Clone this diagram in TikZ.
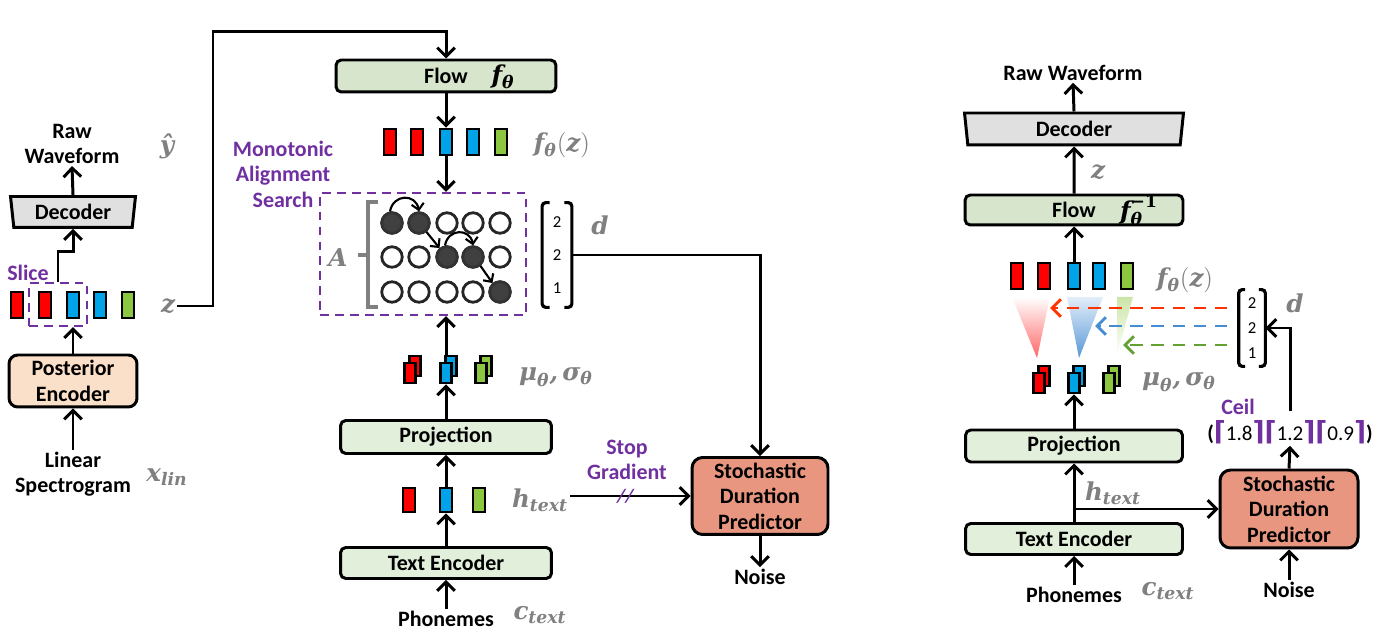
\documentclass[tikz,border=0pt]{standalone}
\usepackage{amsmath,amssymb}
\usepackage{xcolor}
\usepackage[no-math]{fontspec}
\setmainfont{Carlito}
\newfontfamily\symserif{DejaVu Serif}
\newfontfamily\symsans{DejaVu Sans}
\usepackage{tikz}
\usetikzlibrary{shapes,arrows,positioning,calc,arrows.meta}

\definecolor{vred}{RGB}{255,0,0}
\definecolor{vblue}{RGB}{0,162,232}
\definecolor{vgreen}{RGB}{141,198,63}
\definecolor{mpurple}{RGB}{112,48,160}
\definecolor{lgray}{RGB}{128,128,128}
\definecolor{flowgreen}{RGB}{214,229,204}
\definecolor{boxgreen}{RGB}{226,239,218}
\definecolor{peach}{RGB}{250,224,200}
\definecolor{salmon}{RGB}{232,150,128}
\definecolor{decgray}{RGB}{224,224,224}
\definecolor{dotgray}{RGB}{64,64,64}
\definecolor{dred}{RGB}{255,51,0}
\definecolor{dblue}{RGB}{70,140,210}
\definecolor{dgreen}{RGB}{100,160,50}

\newcommand{\msym}[1]{\text{\symserif\bfseries\itshape #1}}
\newcommand{\ceilL}{{\symsans\bfseries\fontsize{15}{16}\selectfont\textcolor{mpurple}{⌈}}}
\newcommand{\ceilR}{{\symsans\bfseries\fontsize{15}{16}\selectfont\textcolor{mpurple}{⌉}}}

\tikzset{
  arr/.style={line width=1.7pt, -{Straight Barb[length=5pt,width=10pt]}},
  smallarr/.style={line width=1.2pt, -{Straight Barb[length=3.5pt,width=7pt]}},
  blk/.style={draw, line width=1.7pt, rounded corners=3pt, inner sep=0pt,
    font=\fontsize{12.5}{14.5}\selectfont\bfseries, align=center},
  dec/.style={draw, line width=1.7pt, trapezium, shape border rotate=180,
    trapezium angle=78, trapezium stretches body, fill=decgray, inner sep=0pt,
    font=\fontsize{12.5}{14.5}\selectfont\bfseries},
  txt/.style={font=\fontsize{12.5}{14.5}\selectfont\bfseries, align=center, inner sep=1pt},
  ptxt/.style={txt, text=mpurple},
  sym/.style={text=lgray, font=\fontsize{14}{17}\selectfont, inner sep=1pt},
  vec/.style={draw, line width=1.5pt, minimum width=0.24cm, minimum height=0.52cm, inner sep=0pt},
  svec/.style={draw, line width=1.5pt, minimum width=0.22cm, minimum height=0.40cm, inner sep=0pt},
  cell/.style={circle, draw=black!85, line width=1.6pt, minimum size=0.41cm, inner sep=0pt, fill=white},
  fullcell/.style={cell, fill=dotgray, draw=black!80},
  numcol/.style={align=center, inner sep=0pt},
  mbox/.style={draw=mpurple, dashed, dash pattern=on 5pt off 3.5pt, line width=1.2pt},
}

\begin{document}
\begin{tikzpicture}[x=0.02cm, y=-0.02cm]
    \useasboundingbox (0,0) rectangle (1392,644);

    % Left: posterior path
    \node[txt] (raw1) at (72,144) {Raw\\Waveform};
    \node[sym] (yhat) at (167,146) {$\msym{ŷ}$};
    \node[dec, minimum width=2.5cm, minimum height=0.62cm] (dec1) at (73,212) {Decoder};
    \foreach \i/\x/\c in {1/17/vred, 2/45/vred, 3/73/vblue, 4/100/vblue, 5/128/vgreen}
        \node[vec, fill=\c] (z\i) at (\x,305) {};
    \node[mbox, minimum width=1.16cm, minimum height=0.86cm] (slice) at (58,304.5) {};
    \node[ptxt] (slicet) at (28,273) {Slice};
    \node[sym] (zl) at (168,306) {$\msym{z}$};
    \node[blk, fill=peach, rounded corners=5pt, minimum width=2.56cm, minimum height=1.04cm] (post) at (73,381) {Posterior\\Encoder};
    \node[txt] (lin) at (73,474) {Linear\\Spectrogram};
    \node[sym] (xlin) at (167,477) {$\msym{x}_{\msym{lin}}$};

    \draw[arr] (lin.north) -- (post.south);
    \draw[arr] (post.north) -- (post.north |- slice.south);
    \draw[arr] (slice.north) -- ++(0,-30) -| (dec1.south);
    \draw[arr] (dec1.north) -- (raw1.south);

    % Middle: training prior path
    \node[blk, fill=flowgreen, minimum width=4.4cm, minimum height=0.64cm] (flow) at (446,76) {Flow};
    \node[font=\fontsize{14}{17}\selectfont] (flowf) at (503,77) {$\msym{f}_{\msym{θ}}$};
    \coordinate (zup) at (213,32);
    \draw[arr] (zl.east) -| (zup) -| (flow.north);
    \foreach \i/\x/\c in {1/390/vred, 2/417/vred, 3/446/vblue, 4/473/vblue, 5/501/vgreen}
        \node[vec, fill=\c] (fz\i) at (\x,142) {};
    \node[sym] (fzl) at (562,145) {$\msym{f}_{\msym{θ}}(\msym{z})$};

    % Alignment search
    \node[mbox, minimum width=4.12cm, minimum height=2.44cm] (mas) at (423,254) {};
    \node[ptxt] (mast) at (283,174) {Monotonic\\Alignment\\Search};
    \foreach \r/\y in {1/223, 2/257, 3/292}
        \foreach \c/\x in {1/392, 2/419, 3/447, 4/473, 5/500}
            \node[cell] (c\r\c) at (\x,\y) {};
    \foreach \r/\c in {1/1, 1/2, 2/3, 2/4, 3/5}
        \node[fullcell] (c\r\c) at (c\r\c) {};
    \draw[smallarr] (c11.100) to[out=80, in=100, looseness=1.6] (c12.90);
    \draw[smallarr] (c23.100) to[out=80, in=100, looseness=1.6] (c24.90);
    \draw[smallarr] (c12.-50) -- (c23.130);
    \draw[smallarr] (c24.-50) -- (c35.130);
    \node[sym] (al) at (338,258) {$\msym{A}$};
    \draw[lgray, line width=1.8pt] (378,202) -- (368,202) -- (368,307) -- (378,307);
    \draw[lgray, line width=1.8pt] (368,255) -- (358,255);

    % Duration vector
    \node[numcol, font=\fontsize{9.5}{18.7}\selectfont, minimum width=0.58cm, minimum height=2.08cm] (dv) at (557,255) {2\\2\\1};
    \draw[line width=1.8pt, rounded corners=2pt] ([xshift=0.15cm]dv.north west) -- (dv.north west) -- (dv.south west) -- ([xshift=0.15cm]dv.south west);
    \draw[line width=1.8pt, rounded corners=2pt] ([xshift=-0.15cm]dv.north east) -- (dv.north east) -- (dv.south east) -- ([xshift=-0.15cm]dv.south east);
    \node[sym] (dl) at (600,225) {$\msym{d}$};

    % Prior statistics
    \foreach \i/\x/\c in {1/410/vred, 2/446/vblue, 3/481/vgreen} {
        \node[svec, fill=\c] (mb\i) at (\x+5,366) {};
        \node[svec, fill=\c] (mu\i) at (\x,373) {};
    }
    \node[sym] (musl) at (556,377) {$\msym{μ}_{\msym{θ}}\msym{,}\,\msym{σ}_{\msym{θ}}$};
    \node[blk, fill=boxgreen, minimum width=4.22cm, minimum height=0.66cm] (proj) at (446,437) {Projection};
    \foreach \i/\x/\c in {1/409/vred, 2/446/vblue, 3/479/vgreen}
        \node[vec, fill=\c, minimum height=0.48cm] (ht\i) at (\x,500) {};
    \node[sym] (htl) at (540,500) {$\msym{h}_{\msym{text}}$};
    \node[blk, fill=boxgreen, minimum width=4.22cm, minimum height=0.62cm] (te) at (446,563) {Text Encoder};
    \node[txt] (ph) at (446,619) {Phonemes};
    \node[sym] (ctl) at (540,615) {$\msym{c}_{\msym{text}}$};
    \node[blk, fill=salmon, rounded corners=6pt, minimum width=2.72cm, minimum height=1.54cm] (sdp) at (760,496) {Stochastic\\Duration\\Predictor};
    \node[txt] (noise) at (760,577) {Noise};
    \node[ptxt] (stopt) at (627,460) {Stop\\Gradient};

    \draw[arr] (flow.south) -- (fz3.north);
    \draw[arr] (fz3.south) -- (fz3.south |- mas.north);
    \draw[arr] (mu2.north |- mb2.north) -- (mu2.north |- mas.south);
    \draw[arr] (proj.north) -- (mu2.south);
    \draw[arr] (ht2.north) -- (proj.south);
    \draw[arr] (te.north) -- (ht2.south);
    \draw[arr] (ph.north) -- (te.south);
    \draw[arr] (dv.east) -| (sdp.north);
    \draw[arr] (htl.east |- sdp.west) -- node[pos=0.46, text=mpurple, font=\fontsize{11}{12}\selectfont\bfseries\itshape] (sg) {//} (sdp.west);
    \draw[arr] (sdp.south) -- (noise.north);

    % Right: inference path
    \node[txt] (raw2) at (1073,73) {Raw Waveform};
    \node[dec, minimum width=4.38cm, minimum height=0.64cm] (dec2) at (1074,129) {Decoder};
    \node[sym] (z2l) at (1098,172) {$\msym{z}$};
    \node[blk, fill=flowgreen, minimum width=4.36cm, minimum height=0.6cm] (flow2) at (1074,210) {Flow};
    \node[font=\fontsize{14}{17}\selectfont] (flow2f) at (1139,210) {$\msym{f}_{\msym{θ}}^{\text{\symserif\bfseries −1}}$};
    \foreach \i/\x/\c in {1/1017/vred, 2/1044/vred, 3/1074/vblue, 4/1099/vblue, 5/1127/vgreen}
        \node[vec, fill=\c] (fr\i) at (\x,276) {};
    \node[sym] (fz2l) at (1185,280) {$\msym{f}_{\msym{θ}}(\msym{z})$};

    % Expansion cones
    \shade[top color=white, bottom color=red!60] (1012,297) -- (1050,297) -- (1037,358) -- cycle;
    \shade[top color=dblue!15, bottom color=dblue!90] (1067,297) -- (1103,297) -- (1079,358) -- cycle;
    \shade[top color=vgreen!45, bottom color=white] (1117,297) -- (1133,297) -- (1117,355) -- cycle;

    \node[numcol, font=\fontsize{9.5}{14.2}\selectfont, minimum width=0.52cm, minimum height=1.52cm] (dv2) at (1252,328) {2\\2\\1};
    \draw[line width=1.8pt, rounded corners=2pt] ([xshift=0.13cm]dv2.north west) -- (dv2.north west) -- (dv2.south west) -- ([xshift=0.13cm]dv2.south west);
    \draw[line width=1.8pt, rounded corners=2pt] ([xshift=-0.13cm]dv2.north east) -- (dv2.north east) -- (dv2.south east) -- ([xshift=-0.13cm]dv2.south east);
    \node[sym] (d2l) at (1295,303) {$\msym{d}$};
    \coordinate (sr) at (1227,308);
    \coordinate (er) at (1050,308);
    \coordinate (sb) at (1227,326);
    \coordinate (eb) at (1095,326);
    \coordinate (sg2) at (1227,345);
    \coordinate (eg) at (1123,345);
    \draw[arr, dred, dash pattern=on 7pt off 5pt] (sr) -- (er);
    \draw[arr, dblue, dash pattern=on 7pt off 5pt] (sb) -- (eb);
    \draw[arr, dgreen, dash pattern=on 7pt off 5pt] (sg2) -- (eg);

    \foreach \i/\x/\c in {1/1039/vred, 2/1074/vblue, 3/1109/vgreen} {
        \node[svec, fill=\c] (nb\i) at (\x+5,376) {};
        \node[svec, fill=\c] (nu\i) at (\x,383) {};
    }
    \node[sym] (mus2l) at (1179,382) {$\msym{μ}_{\msym{θ}}\msym{,}\,\msym{σ}_{\msym{θ}}$};
    \node[blk, fill=boxgreen, minimum width=4.34cm, minimum height=0.64cm] (proj2) at (1074,446) {Projection};
    \node[sym] (ht2l) at (1113,493) {$\msym{h}_{\msym{text}}$};
    \node[blk, fill=boxgreen, minimum width=4.34cm, minimum height=0.62cm] (te2) at (1074,539) {Text Encoder};
    \node[txt] (ph2) at (1074,595) {Phonemes};
    \node[sym] (ct2l) at (1168,591) {$\msym{c}_{\msym{text}}$};
    \node[blk, fill=salmon, rounded corners=6pt, minimum width=2.76cm, minimum height=1.56cm] (sdp2) at (1289,509) {Stochastic\\Duration\\Predictor};
    \node[txt] (noise2) at (1289,590) {Noise};
    \node[ptxt] (ceilt) at (1238,407) {Ceil};
    \node[font=\fontsize{12}{14}\selectfont, inner sep=1pt] (ceil) at (1290,432) {\textbf{(}\ceilL1.8\ceilR\ceilL1.2\ceilR\ceilL0.9\ceilR\textbf{)}};

    \draw[arr] (dec2.north) -- (raw2.south);
    \draw[arr] (flow2.north) -- (dec2.south);
    \draw[arr] (fr3.north) -- (fr3.north |- flow2.south);
    \draw[arr] (proj2.north) -- (nu2.south);
    \draw[arr] (te2.north) -- (proj2.south);
    \draw[arr] (te2.north |- sdp2.west) -- (sdp2.west);
    \draw[arr] (ph2.north) -- (te2.south);
    \draw[arr] (noise2.north) -- (sdp2.south);
    \draw[arr] (sdp2.north) -- (ceil.south);
    \draw[arr] ([yshift=0.15cm]ceil.north) |- (dv2.east);
\end{tikzpicture}
\end{document}
